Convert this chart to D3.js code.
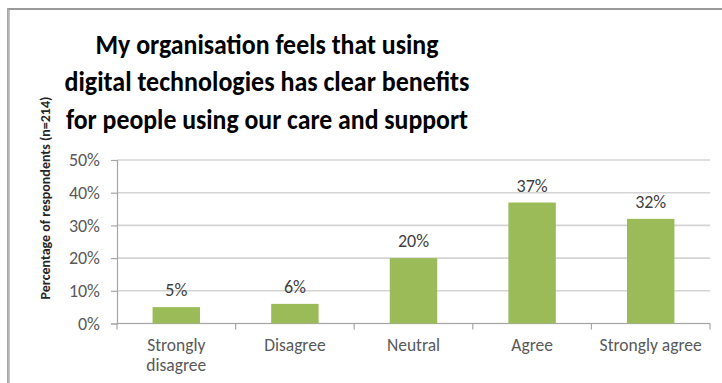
<!DOCTYPE html>
<html>
<head>
<meta charset="utf-8">
<script src="https://cdn.jsdelivr.net/npm/d3@7"></script>
<style>
  html, body { margin: 0; padding: 0; background: #fff; }
  svg { display: block; }
  text { font-family: Carlito, Lato, "Open Sans", sans-serif; }
</style>
</head>
<body>
<svg id="chart" width="722" height="383"></svg>
<script>
// Survey responses
const categories = ["Strongly disagree", "Disagree", "Neutral", "Agree", "Strongly agree"];
const categoryLines = [["Strongly", "disagree"], ["Disagree"], ["Neutral"], ["Agree"], ["Strongly agree"]];
const values = [5, 6, 20, 37, 32];
const yTicks = [0, 10, 20, 30, 40, 50];
const titleLines = [
  "My organisation feels that using",
  "digital technologies has clear benefits",
  "for people using our care and support"
];
const yAxisLabel = "Percentage of respondents (n=214)";

const svg = d3.select("#chart");
const W = 722, H = 383;
const margin = { left: 117, right: 12, top: 160, bottom: 60 };
const plotW = W - margin.left - margin.right;
const plotH = 323.5 - margin.top;

// Fit a text element to a given width by narrowing glyphs
function fitWidth(sel, widths) {
  sel.each(function (d, i) {
    const w = typeof widths === "function" ? widths(d, i) : widths;
    if (this.getComputedTextLength() > w) {
      d3.select(this).attr("textLength", w).attr("lengthAdjust", "spacingAndGlyphs");
    }
  });
}

// Frame edges (top and left)
svg.append("rect").attr("x", 7).attr("y", 8).attr("width", W - 7).attr("height", 2).attr("fill", "#9a9a9a");
svg.append("rect").attr("x", 7).attr("y", 10).attr("width", 3).attr("height", H - 10).attr("fill", "#c4c4c4");
svg.append("rect").attr("x", 7).attr("y", 8).attr("width", 1.5).attr("height", H - 8).attr("fill", "#a8a8a8");

const g = svg.append("g").attr("transform", `translate(${margin.left},${margin.top})`);

const x = d3.scaleBand().domain(categories).range([0, plotW]).paddingInner(0.6).paddingOuter(0.3);
const xOuter = d3.scaleBand().domain(categories).range([0, plotW]);
const y = d3.scaleLinear().domain([0, 50]).range([plotH, 0]);

// Horizontal gridlines
g.append("g").selectAll("line").data(yTicks).join("line")
  .attr("x1", 0).attr("x2", plotW)
  .attr("y1", d => y(d)).attr("y2", d => y(d))
  .attr("stroke", "#d4d4d4").attr("stroke-width", 1.6);

// Y axis
const yAxis = g.append("g")
  .call(d3.axisLeft(y).tickValues(yTicks).tickFormat(d => d + "%").tickSize(6).tickPadding(11));
yAxis.select(".domain").attr("stroke", "#a6a6a6").attr("stroke-width", 1.2);
yAxis.selectAll(".tick line").attr("stroke", "#a6a6a6").attr("stroke-width", 1.2);
yAxis.selectAll(".tick text").attr("fill", "#595959").attr("font-size", 18)
  .style("font-family", "Carlito, Lato, sans-serif");
fitWidth(yAxis.selectAll(".tick text"), 36);

// X axis baseline with tick marks at band edges
g.append("line").attr("x1", 0).attr("x2", plotW).attr("y1", plotH).attr("y2", plotH)
  .attr("stroke", "#a6a6a6").attr("stroke-width", 1.2);
const edges = categories.map(c => xOuter(c)).concat([plotW]);
g.append("g").selectAll("line").data(edges).join("line")
  .attr("x1", d => d).attr("x2", d => d).attr("y1", plotH).attr("y2", plotH + 6)
  .attr("stroke", "#a6a6a6").attr("stroke-width", 1.2);

// Bars
g.append("g").selectAll("rect").data(values).join("rect")
  .attr("x", (d, i) => x(categories[i]))
  .attr("width", x.bandwidth())
  .attr("y", d => y(d))
  .attr("height", d => plotH - y(d))
  .attr("fill", "#9bbb59");

// Value labels
const vl = g.append("g").selectAll("text").data(values).join("text")
  .attr("x", (d, i) => x(categories[i]) + x.bandwidth() / 2)
  .attr("y", d => y(d) - 11)
  .attr("text-anchor", "middle")
  .attr("font-size", 18)
  .attr("fill", "#404040")
  .text(d => d + "%");
fitWidth(vl, d => String(d).length > 1 ? 36 : 24);

// Category labels
const cat = g.append("g").selectAll("text").data(categoryLines).join("text")
  .attr("x", (d, i) => xOuter(categories[i]) + xOuter.bandwidth() / 2)
  .attr("y", 351 - margin.top)
  .attr("text-anchor", "middle")
  .attr("font-size", 17.5)
  .attr("fill", "#595959");
cat.selectAll("tspan").data(d => d).join("tspan")
  .attr("x", function () { return this.parentNode.getAttribute("x"); })
  .attr("dy", (d, i) => i === 0 ? 0 : 20)
  .text(d => d);

// Y axis title
const yt = svg.append("text")
  .attr("transform", "translate(50,198) rotate(-90)")
  .attr("text-anchor", "middle")
  .attr("font-size", 14)
  .attr("font-weight", "bold")
  .attr("fill", "#262626")
  .text(yAxisLabel);
fitWidth(yt, 240);

// Chart title
const tt = svg.append("g").selectAll("text").data(titleLines).join("text")
  .attr("x", 267)
  .attr("y", (d, i) => 53.5 + i * 37.5)
  .attr("text-anchor", "middle")
  .attr("font-size", 29)
  .attr("font-weight", "bold")
  .attr("fill", "#000")
  .text(d => d);
fitWidth(tt, (d, i) => [343, 405, 402][i]);
</script>
</body>
</html>
